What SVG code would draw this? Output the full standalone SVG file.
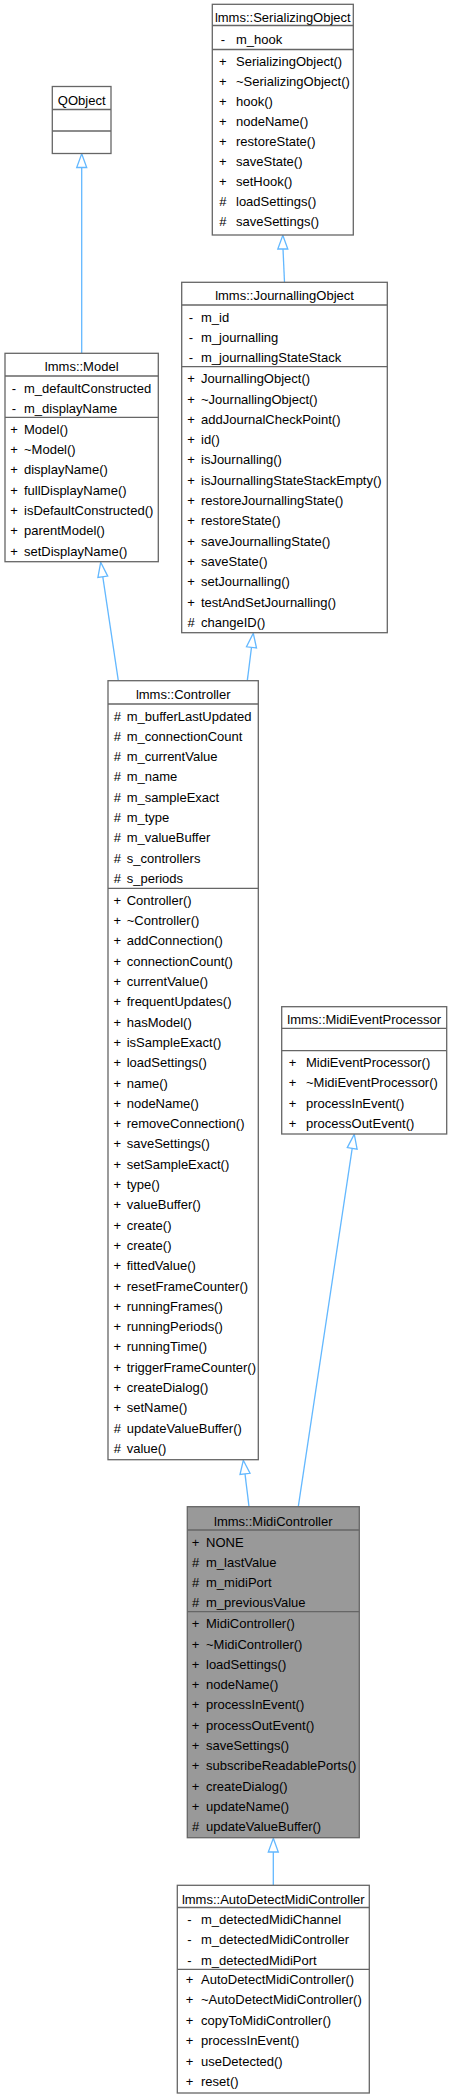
<svg xmlns="http://www.w3.org/2000/svg" width="452" height="2100" viewBox="0 0 452 2100">
<style>
.b{fill:#fff;stroke:#666;stroke-width:1.3}
.g{fill:#999;stroke:#666;stroke-width:1.3}
.l{stroke:#666;stroke-width:1.3}
text{font-family:"Liberation Sans",Arial,Helvetica,sans-serif;font-size:13px;fill:#000}
.c{text-anchor:middle}
.e{stroke:#63B8FF;stroke-width:1.3;fill:none}
.a{fill:#fff;stroke:#63B8FF;stroke-width:1.3}
</style>
<rect width="452" height="2100" fill="#fff"/>
<g id="connectors">
<line class="e" x1="81.7" y1="353.3" x2="81.7" y2="167.5"/>
<polygon class="a" points="81.7,153.8 86.7,167.5 76.7,167.5"/>
<line class="e" x1="284.5" y1="282.3" x2="283" y2="249"/>
<polygon class="a" points="282.8,235.3 287.8,249 277.8,249"/>
<line class="e" x1="118.3" y1="680.7" x2="102.8" y2="576.8"/>
<polygon class="a" points="100.7,562.3 107.7,576.1 97.9,577.5"/>
<line class="e" x1="247.3" y1="680.7" x2="251.5" y2="647.4"/>
<polygon class="a" points="253.3,633.3 256.5,648 246.5,646.8"/>
<line class="e" x1="249" y1="1506.7" x2="245" y2="1473.9"/>
<polygon class="a" points="243.3,1460.3 250,1473.3 240,1474.5"/>
<line class="e" x1="298.3" y1="1506.7" x2="352.2" y2="1148.3"/>
<polygon class="a" points="354.3,1134.3 357.1,1149.1 347.3,1147.6"/>
<line class="e" x1="273.3" y1="1885.3" x2="273.3" y2="1852"/>
<polygon class="a" points="273.3,1838.3 278.3,1852 268.3,1852"/>
</g>
<g id="QObject">
<rect class="b" x="52.3" y="86.5" width="58.7" height="67"/>
<line class="l" x1="52.3" y1="109.5" x2="111" y2="109.5"/>
<line class="l" x1="52.3" y1="131" x2="111" y2="131"/>
<text class="c" x="81.7" y="104.5">QObject</text>
</g>
<g id="SerializingObject">
<rect class="b" x="212.3" y="4.3" width="141" height="230.7"/>
<line class="l" x1="212.3" y1="25.5" x2="353.3" y2="25.5"/>
<line class="l" x1="212.3" y1="49.5" x2="353.3" y2="49.5"/>
<text class="c" x="282.8" y="21.5">lmms::SerializingObject</text>
<text class="c" x="222.8" y="43.5">-</text><text x="236" y="43.5">m_hook</text>
<text class="c" x="222.8" y="66">+</text><text x="236" y="66">SerializingObject()</text>
<text class="c" x="222.8" y="86">+</text><text x="236" y="86">~SerializingObject()</text>
<text class="c" x="222.8" y="106">+</text><text x="236" y="106">hook()</text>
<text class="c" x="222.8" y="126">+</text><text x="236" y="126">nodeName()</text>
<text class="c" x="222.8" y="146">+</text><text x="236" y="146">restoreState()</text>
<text class="c" x="222.8" y="166">+</text><text x="236" y="166">saveState()</text>
<text class="c" x="222.8" y="186">+</text><text x="236" y="186">setHook()</text>
<text class="c" x="222.8" y="206">#</text><text x="236" y="206">loadSettings()</text>
<text class="c" x="222.8" y="226">#</text><text x="236" y="226">saveSettings()</text>
</g>
<g id="JournallingObject">
<rect class="b" x="181.7" y="282.3" width="205.6" height="350.4"/>
<line class="l" x1="181.7" y1="305" x2="387.3" y2="305"/>
<line class="l" x1="181.7" y1="366.7" x2="387.3" y2="366.7"/>
<text class="c" x="284.5" y="300">lmms::JournallingObject</text>
<text class="c" x="191" y="321.5">-</text><text x="201" y="321.5">m_id</text>
<text class="c" x="191" y="341.8">-</text><text x="201" y="341.8">m_journalling</text>
<text class="c" x="191" y="362.1">-</text><text x="201" y="362.1">m_journallingStateStack</text>
<text class="c" x="191" y="383.2">+</text><text x="201" y="383.2">JournallingObject()</text>
<text class="c" x="191" y="403.5">+</text><text x="201" y="403.5">~JournallingObject()</text>
<text class="c" x="191" y="423.8">+</text><text x="201" y="423.8">addJournalCheckPoint()</text>
<text class="c" x="191" y="444.1">+</text><text x="201" y="444.1">id()</text>
<text class="c" x="191" y="464.4">+</text><text x="201" y="464.4">isJournalling()</text>
<text class="c" x="191" y="484.7">+</text><text x="201" y="484.7">isJournallingStateStackEmpty()</text>
<text class="c" x="191" y="505">+</text><text x="201" y="505">restoreJournallingState()</text>
<text class="c" x="191" y="525.3">+</text><text x="201" y="525.3">restoreState()</text>
<text class="c" x="191" y="545.6">+</text><text x="201" y="545.6">saveJournallingState()</text>
<text class="c" x="191" y="565.9">+</text><text x="201" y="565.9">saveState()</text>
<text class="c" x="191" y="586.2">+</text><text x="201" y="586.2">setJournalling()</text>
<text class="c" x="191" y="606.5">+</text><text x="201" y="606.5">testAndSetJournalling()</text>
<text class="c" x="191" y="626.8">#</text><text x="201" y="626.8">changeID()</text>
</g>
<g id="Model">
<rect class="b" x="5" y="353.3" width="153.3" height="208.4"/>
<line class="l" x1="5" y1="376" x2="158.3" y2="376"/>
<line class="l" x1="5" y1="417.3" x2="158.3" y2="417.3"/>
<text class="c" x="81.7" y="371">lmms::Model</text>
<text class="c" x="14" y="392.5">-</text><text x="24" y="392.5">m_defaultConstructed</text>
<text class="c" x="14" y="412.8">-</text><text x="24" y="412.8">m_displayName</text>
<text class="c" x="14" y="433.8">+</text><text x="24" y="433.8">Model()</text>
<text class="c" x="14" y="454.1">+</text><text x="24" y="454.1">~Model()</text>
<text class="c" x="14" y="474.4">+</text><text x="24" y="474.4">displayName()</text>
<text class="c" x="14" y="494.7">+</text><text x="24" y="494.7">fullDisplayName()</text>
<text class="c" x="14" y="515">+</text><text x="24" y="515">isDefaultConstructed()</text>
<text class="c" x="14" y="535.3">+</text><text x="24" y="535.3">parentModel()</text>
<text class="c" x="14" y="555.6">+</text><text x="24" y="555.6">setDisplayName()</text>
</g>
<g id="Controller">
<rect class="b" x="108" y="680.7" width="150.3" height="779"/>
<line class="l" x1="108" y1="704" x2="258.3" y2="704"/>
<line class="l" x1="108" y1="888.3" x2="258.3" y2="888.3"/>
<text class="c" x="183.2" y="699">lmms::Controller</text>
<text class="c" x="117.3" y="720.5">#</text><text x="126.7" y="720.5">m_bufferLastUpdated</text>
<text class="c" x="117.3" y="740.8">#</text><text x="126.7" y="740.8">m_connectionCount</text>
<text class="c" x="117.3" y="761.1">#</text><text x="126.7" y="761.1">m_currentValue</text>
<text class="c" x="117.3" y="781.4">#</text><text x="126.7" y="781.4">m_name</text>
<text class="c" x="117.3" y="801.7">#</text><text x="126.7" y="801.7">m_sampleExact</text>
<text class="c" x="117.3" y="822">#</text><text x="126.7" y="822">m_type</text>
<text class="c" x="117.3" y="842.3">#</text><text x="126.7" y="842.3">m_valueBuffer</text>
<text class="c" x="117.3" y="862.6">#</text><text x="126.7" y="862.6">s_controllers</text>
<text class="c" x="117.3" y="882.9">#</text><text x="126.7" y="882.9">s_periods</text>
<text class="c" x="117.3" y="904.8">+</text><text x="126.7" y="904.8">Controller()</text>
<text class="c" x="117.3" y="925.1">+</text><text x="126.7" y="925.1">~Controller()</text>
<text class="c" x="117.3" y="945.4">+</text><text x="126.7" y="945.4">addConnection()</text>
<text class="c" x="117.3" y="965.7">+</text><text x="126.7" y="965.7">connectionCount()</text>
<text class="c" x="117.3" y="986">+</text><text x="126.7" y="986">currentValue()</text>
<text class="c" x="117.3" y="1006.3">+</text><text x="126.7" y="1006.3">frequentUpdates()</text>
<text class="c" x="117.3" y="1026.6">+</text><text x="126.7" y="1026.6">hasModel()</text>
<text class="c" x="117.3" y="1046.9">+</text><text x="126.7" y="1046.9">isSampleExact()</text>
<text class="c" x="117.3" y="1067.2">+</text><text x="126.7" y="1067.2">loadSettings()</text>
<text class="c" x="117.3" y="1087.5">+</text><text x="126.7" y="1087.5">name()</text>
<text class="c" x="117.3" y="1107.8">+</text><text x="126.7" y="1107.8">nodeName()</text>
<text class="c" x="117.3" y="1128.1">+</text><text x="126.7" y="1128.1">removeConnection()</text>
<text class="c" x="117.3" y="1148.4">+</text><text x="126.7" y="1148.4">saveSettings()</text>
<text class="c" x="117.3" y="1168.7">+</text><text x="126.7" y="1168.7">setSampleExact()</text>
<text class="c" x="117.3" y="1189">+</text><text x="126.7" y="1189">type()</text>
<text class="c" x="117.3" y="1209.3">+</text><text x="126.7" y="1209.3">valueBuffer()</text>
<text class="c" x="117.3" y="1229.6">+</text><text x="126.7" y="1229.6">create()</text>
<text class="c" x="117.3" y="1249.9">+</text><text x="126.7" y="1249.9">create()</text>
<text class="c" x="117.3" y="1270.2">+</text><text x="126.7" y="1270.2">fittedValue()</text>
<text class="c" x="117.3" y="1290.5">+</text><text x="126.7" y="1290.5">resetFrameCounter()</text>
<text class="c" x="117.3" y="1310.8">+</text><text x="126.7" y="1310.8">runningFrames()</text>
<text class="c" x="117.3" y="1331.1">+</text><text x="126.7" y="1331.1">runningPeriods()</text>
<text class="c" x="117.3" y="1351.4">+</text><text x="126.7" y="1351.4">runningTime()</text>
<text class="c" x="117.3" y="1371.7">+</text><text x="126.7" y="1371.7">triggerFrameCounter()</text>
<text class="c" x="117.3" y="1392">+</text><text x="126.7" y="1392">createDialog()</text>
<text class="c" x="117.3" y="1412.3">+</text><text x="126.7" y="1412.3">setName()</text>
<text class="c" x="117.3" y="1432.6">#</text><text x="126.7" y="1432.6">updateValueBuffer()</text>
<text class="c" x="117.3" y="1452.9">#</text><text x="126.7" y="1452.9">value()</text>
</g>
<g id="MidiEventProcessor">
<rect class="b" x="281.7" y="1006.7" width="165" height="127.3"/>
<line class="l" x1="281.7" y1="1028.3" x2="446.7" y2="1028.3"/>
<line class="l" x1="281.7" y1="1050.7" x2="446.7" y2="1050.7"/>
<text class="c" x="364.2" y="1024">lmms::MidiEventProcessor</text>
<text class="c" x="292.5" y="1066.5">+</text><text x="306" y="1066.5">MidiEventProcessor()</text>
<text class="c" x="292.5" y="1087">+</text><text x="306" y="1087">~MidiEventProcessor()</text>
<text class="c" x="292.5" y="1107.5">+</text><text x="306" y="1107.5">processInEvent()</text>
<text class="c" x="292.5" y="1128">+</text><text x="306" y="1128">processOutEvent()</text>
</g>
<g id="MidiController">
<rect class="g" x="187.3" y="1506.7" width="172" height="331"/>
<line class="l" x1="187.3" y1="1530" x2="359.3" y2="1530"/>
<line class="l" x1="187.3" y1="1611.7" x2="359.3" y2="1611.7"/>
<text class="c" x="273.3" y="1525.5">lmms::MidiController</text>
<text class="c" x="195.5" y="1546.5">+</text><text x="206" y="1546.5">NONE</text>
<text class="c" x="195.5" y="1566.8">#</text><text x="206" y="1566.8">m_lastValue</text>
<text class="c" x="195.5" y="1587.1">#</text><text x="206" y="1587.1">m_midiPort</text>
<text class="c" x="195.5" y="1607.4">#</text><text x="206" y="1607.4">m_previousValue</text>
<text class="c" x="195.5" y="1628.2">+</text><text x="206" y="1628.2">MidiController()</text>
<text class="c" x="195.5" y="1648.5">+</text><text x="206" y="1648.5">~MidiController()</text>
<text class="c" x="195.5" y="1668.8">+</text><text x="206" y="1668.8">loadSettings()</text>
<text class="c" x="195.5" y="1689.1">+</text><text x="206" y="1689.1">nodeName()</text>
<text class="c" x="195.5" y="1709.4">+</text><text x="206" y="1709.4">processInEvent()</text>
<text class="c" x="195.5" y="1729.7">+</text><text x="206" y="1729.7">processOutEvent()</text>
<text class="c" x="195.5" y="1750">+</text><text x="206" y="1750">saveSettings()</text>
<text class="c" x="195.5" y="1770.3">+</text><text x="206" y="1770.3">subscribeReadablePorts()</text>
<text class="c" x="195.5" y="1790.6">+</text><text x="206" y="1790.6">createDialog()</text>
<text class="c" x="195.5" y="1810.9">+</text><text x="206" y="1810.9">updateName()</text>
<text class="c" x="195.5" y="1831.2">#</text><text x="206" y="1831.2">updateValueBuffer()</text>
</g>
<g id="AutoDetectMidiController">
<rect class="b" x="177.3" y="1885.3" width="192" height="207.7"/>
<line class="l" x1="177.3" y1="1907.5" x2="369.3" y2="1907.5"/>
<line class="l" x1="177.3" y1="1969.3" x2="369.3" y2="1969.3"/>
<text class="c" x="273.3" y="1904">lmms::AutoDetectMidiController</text>
<text class="c" x="189.5" y="1924">-</text><text x="201" y="1924">m_detectedMidiChannel</text>
<text class="c" x="189.5" y="1944.3">-</text><text x="201" y="1944.3">m_detectedMidiController</text>
<text class="c" x="189.5" y="1964.6">-</text><text x="201" y="1964.6">m_detectedMidiPort</text>
<text class="c" x="189.5" y="1984">+</text><text x="201" y="1984">AutoDetectMidiController()</text>
<text class="c" x="189.5" y="2004.4">+</text><text x="201" y="2004.4">~AutoDetectMidiController()</text>
<text class="c" x="189.5" y="2024.8">+</text><text x="201" y="2024.8">copyToMidiController()</text>
<text class="c" x="189.5" y="2045.2">+</text><text x="201" y="2045.2">processInEvent()</text>
<text class="c" x="189.5" y="2065.6">+</text><text x="201" y="2065.6">useDetected()</text>
<text class="c" x="189.5" y="2086">+</text><text x="201" y="2086">reset()</text>
</g>
</svg>
